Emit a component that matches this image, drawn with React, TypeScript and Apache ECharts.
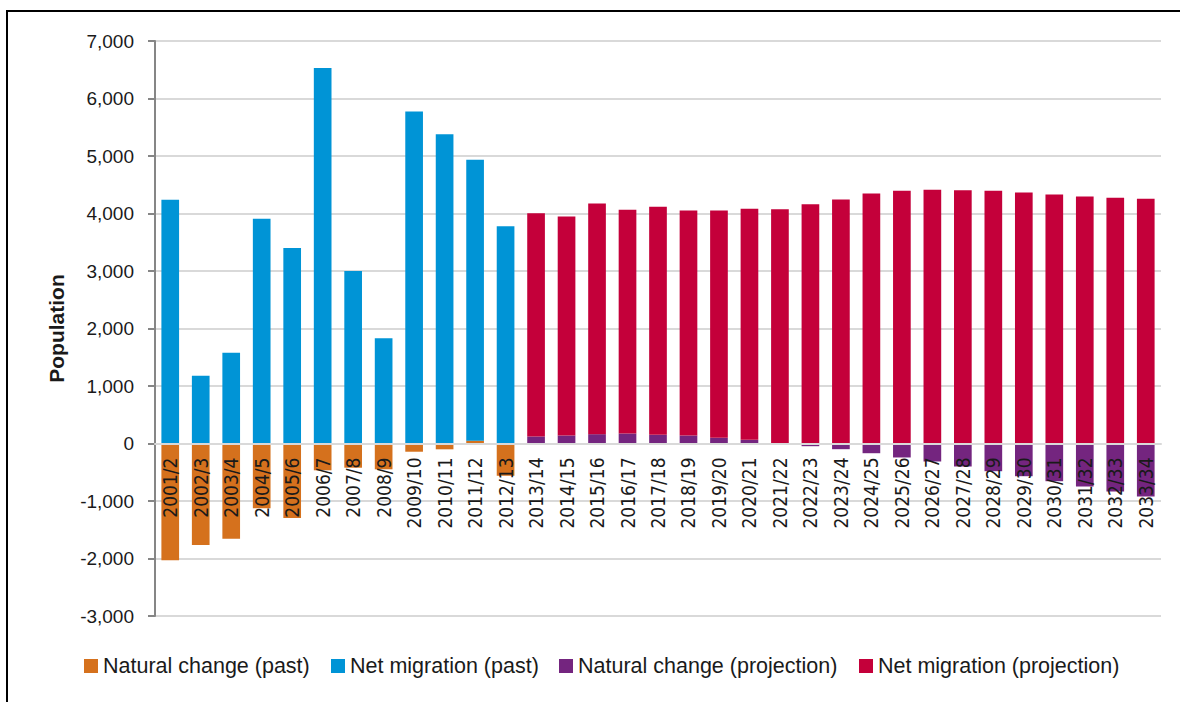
import React, { useEffect, useRef } from "react";
import * as echarts from "echarts";

const pastYears = ["2001/2", "2002/3", "2003/4", "2004/5", "2005/6", "2006/7", "2007/8", "2008/9", "2009/10", "2010/11", "2011/12", "2012/13"];
const projectionYears = ["2013/14", "2014/15", "2015/16", "2016/17", "2017/18", "2018/19", "2019/20", "2020/21", "2021/22", "2022/23", "2023/24", "2024/25", "2025/26", "2026/27", "2027/28", "2028/29", "2029/30", "2030/31", "2031/32", "2032/33", "2033/34"];

const naturalPast = [-2030, -1765, -1655, -1127, -1296, -466, -421, -449, -143, -101, 50, -560];
const migrationPast = [4240, 1180, 1580, 3910, 3400, 6530, 3000, 1830, 5775, 5380, 4885, 3780];
const naturalProjection = [122, 139, 162, 174, 151, 139, 99, 64, 10, -47, -99, -169, -243, -313, -400, -482, -569, -656, -748, -835, -922];
const migrationProjection = [3883, 3809, 4012, 3890, 3965, 3913, 3953, 4017, 4066, 4162, 4243, 4348, 4394, 4412, 4406, 4394, 4365, 4330, 4296, 4273, 4255];

const seriesNames = ["Natural change (past)", "Net migration (past)", "Natural change (projection)", "Net migration (projection)"];
const seriesColors = ["#d5711d", "#0094d6", "#74257f", "#c4003a"];
const legendLefts = [84, 331, 559, 859];

const yTicks = { min: -3000, max: 7000, interval: 1000 };

const SANS = "'Liberation Sans', Arial, sans-serif";
const NARROW = "'Liberation Sans Narrow', 'Arial Narrow', 'DejaVu Sans Condensed', sans-serif";

const GRID = { left: 155, right: 19, top: 41, bottom: 86 };
const HEIGHT = 702;

export default function App() {
  const ref = useRef<HTMLDivElement>(null);

  useEffect(() => {
    if (!ref.current) return;
    const chart = echarts.init(ref.current, null, { renderer: "svg" });
    const categories = [...pastYears, ...projectionYears];
    const padPast = (arr: number[]) => [...arr, ...projectionYears.map(() => null)];
    const padProj = (arr: number[]) => [...pastYears.map(() => null), ...arr];
    const seriesData = [
      padPast(naturalPast),
      padPast(migrationPast),
      padProj(naturalProjection),
      padProj(migrationProjection),
    ];
    const plotHeight = HEIGHT - GRID.top - GRID.bottom;
    const zeroOffset = -plotHeight * (0 - yTicks.min) / (yTicks.max - yTicks.min);

    chart.setOption({
      animation: false,
      backgroundColor: "#ffffff",
      graphic: [
        {
          type: "rect",
          shape: { x: 7, y: 11, width: 1200, height: 720 },
          style: { fill: "none", stroke: "#000000", lineWidth: 2 },
          silent: true,
          z: 100,
        },
      ],
      legend: seriesNames.map((name, i) => ({
        data: [name],
        left: legendLefts[i],
        top: 655,
        padding: 0,
        icon: "rect",
        itemWidth: 14,
        itemHeight: 14,
        textStyle: { fontFamily: SANS, fontSize: 21.5, color: "#1a1a1a" },
        selectedMode: false,
      })),
      grid: { ...GRID, containLabel: false },
      xAxis: {
        type: "category",
        data: categories,
        z: 10,
        offset: zeroOffset,
        axisLine: { onZero: false, lineStyle: { color: "#d9d9d9", width: 2 } },
        axisTick: { show: false },
        axisLabel: {
          rotate: 90,
          interval: 0,
          margin: 14,
          fontFamily: NARROW,
          fontSize: 19,
          color: "#1a1a1a",
        },
        splitLine: { show: false },
      },
      yAxis: {
        type: "value",
        min: yTicks.min,
        max: yTicks.max,
        interval: yTicks.interval,
        name: "Population",
        nameLocation: "middle",
        nameGap: 88,
        nameTextStyle: { fontFamily: SANS, fontSize: 21, fontWeight: "bold", color: "#1a1a1a" },
        axisLine: { show: true, lineStyle: { color: "#868686", width: 2 } },
        axisTick: { show: true, length: 7, lineStyle: { color: "#868686", width: 2 } },
        axisLabel: {
          margin: 21,
          fontFamily: SANS,
          fontSize: 19,
          color: "#1a1a1a",
          formatter: (v: number) => v.toLocaleString("en-US"),
        },
        splitLine: { show: true, lineStyle: { color: "#d9d9d9", width: 2 } },
      },
      series: seriesNames.map((name, i) => ({
        name,
        type: "bar",
        stack: "total",
        barWidth: "58%",
        data: seriesData[i],
        itemStyle: { color: seriesColors[i] },
      })),
    });

    return () => chart.dispose();
  }, []);

  return (
    <div
      ref={ref}
      style={{ position: "fixed", left: 0, top: 0, width: 1180, height: 702, background: "#fff" }}
    />
  );
}
